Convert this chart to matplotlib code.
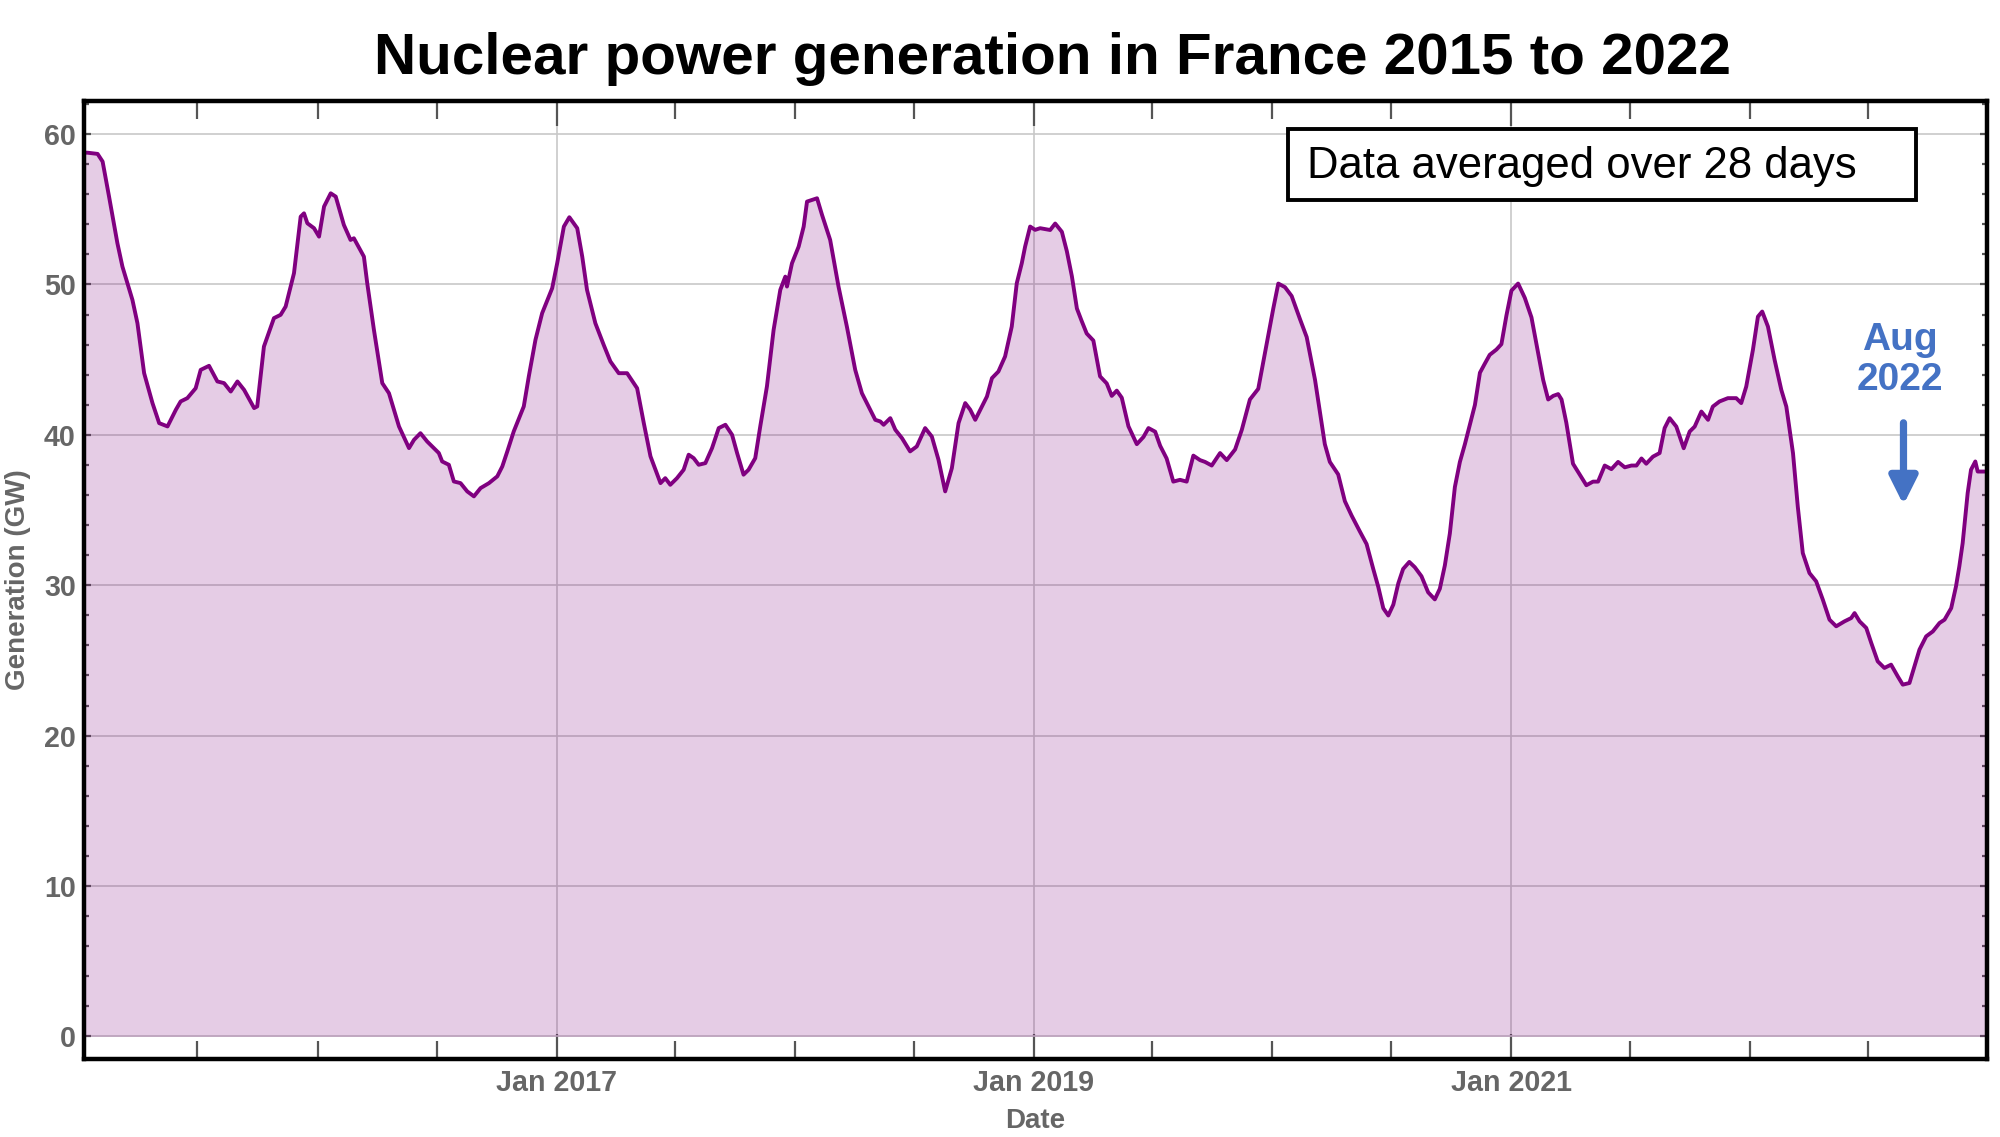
import numpy as np
import pandas as pd
import matplotlib
matplotlib.use("Agg")
import matplotlib.pyplot as plt
import matplotlib.dates as mdates
import matplotlib.ticker as ticker
from matplotlib.patches import Rectangle
from datetime import datetime

plt.rcParams['font.family'] = ['Liberation Sans', 'DejaVu Sans']

# time in decimal years, 28-day averaged generation in GW
years = [
    2015.020, 2015.035, 2015.077, 2015.098, 2015.125, 2015.160, 2015.181, 2015.223, 2015.244, 2015.272,
    2015.307, 2015.335, 2015.370, 2015.405, 2015.425, 2015.453, 2015.488, 2015.509, 2015.544, 2015.579,
    2015.607, 2015.635, 2015.663, 2015.691, 2015.733, 2015.746, 2015.774, 2015.816, 2015.844, 2015.865,
    2015.900, 2015.928, 2015.942, 2015.956, 2015.984, 2016.005, 2016.026, 2016.054, 2016.075, 2016.109,
    2016.137, 2016.151, 2016.193, 2016.207, 2016.235, 2016.270, 2016.298, 2016.340,
    2016.382, 2016.403, 2016.430, 2016.458, 2016.486, 2016.507, 2016.521, 2016.549, 2016.570, 2016.598,
    2016.626, 2016.654, 2016.682, 2016.717, 2016.752, 2016.773, 2016.794, 2016.821, 2016.863, 2016.884,
    2016.912, 2016.940, 2016.982, 2017.003, 2017.031, 2017.054, 2017.087, 2017.108, 2017.128, 2017.163,
    2017.198, 2017.226, 2017.261, 2017.296, 2017.338, 2017.366, 2017.394, 2017.436, 2017.456, 2017.477,
    2017.505, 2017.533, 2017.554, 2017.575, 2017.596, 2017.624, 2017.652, 2017.680, 2017.708,
    2017.736, 2017.757, 2017.784, 2017.805, 2017.833, 2017.854, 2017.882, 2017.910, 2017.938, 2017.959,
    2017.966, 2017.987, 2018.015, 2018.036, 2018.050, 2018.071, 2018.092, 2018.113, 2018.147, 2018.182,
    2018.217, 2018.252, 2018.280, 2018.308, 2018.336, 2018.357, 2018.371, 2018.399, 2018.420, 2018.448,
    2018.482, 2018.510, 2018.545, 2018.573, 2018.601, 2018.629, 2018.657, 2018.685, 2018.713, 2018.734,
    2018.755, 2018.776, 2018.804, 2018.825, 2018.852, 2018.880, 2018.908, 2018.929, 2018.950, 2018.964,
    2018.985, 2019.006,
    2019.027, 2019.069, 2019.090, 2019.118, 2019.139, 2019.160, 2019.181, 2019.201, 2019.222, 2019.250,
    2019.278, 2019.306, 2019.327, 2019.348, 2019.369, 2019.397, 2019.432, 2019.460, 2019.481, 2019.509,
    2019.530, 2019.557, 2019.585, 2019.613, 2019.641, 2019.669, 2019.697, 2019.718, 2019.746, 2019.781,
    2019.809, 2019.844, 2019.872, 2019.906, 2019.941, 2019.976, 2020.004, 2020.025, 2020.053, 2020.081,
    2020.116, 2020.144, 2020.179, 2020.220, 2020.241, 2020.276, 2020.304, 2020.332,
    2020.367, 2020.395, 2020.423, 2020.444, 2020.465, 2020.486, 2020.507, 2020.528, 2020.548, 2020.574,
    2020.597, 2020.625, 2020.653, 2020.681, 2020.702, 2020.723, 2020.744, 2020.765, 2020.786, 2020.807,
    2020.828, 2020.849, 2020.870, 2020.890, 2020.911, 2020.939, 2020.960, 2020.981, 2021.002, 2021.030,
    2021.058, 2021.086, 2021.107, 2021.135, 2021.156, 2021.177, 2021.198, 2021.212, 2021.232, 2021.260,
    2021.288, 2021.316, 2021.344, 2021.365, 2021.393, 2021.421, 2021.449, 2021.477, 2021.505, 2021.526,
    2021.547, 2021.567, 2021.595, 2021.623, 2021.644,
    2021.665, 2021.693, 2021.724, 2021.749, 2021.770, 2021.798, 2021.826, 2021.846, 2021.874, 2021.909,
    2021.944, 2021.965, 2021.986, 2022.014, 2022.035, 2022.053, 2022.077, 2022.105, 2022.133, 2022.154,
    2022.182, 2022.202, 2022.223, 2022.251, 2022.279, 2022.307, 2022.335, 2022.363, 2022.398, 2022.426,
    2022.440, 2022.461, 2022.489, 2022.510, 2022.537, 2022.565, 2022.593, 2022.621, 2022.642, 2022.670,
    2022.691, 2022.712, 2022.740, 2022.768, 2022.796, 2022.817, 2022.845, 2022.865, 2022.879, 2022.893,
    2022.914, 2022.928, 2022.946, 2022.956, 2022.990,
]
generation = [
    58.76, 58.76, 58.68, 58.17, 55.84, 52.74, 51.19, 48.97, 47.42, 44.10,
    42.11, 40.78, 40.56, 41.67, 42.22, 42.44, 43.10, 44.32, 44.59, 43.55,
    43.44, 42.88, 43.55, 42.99, 41.78, 41.89, 45.87, 47.76, 47.98, 48.53,
    50.75, 54.51, 54.73, 54.07, 53.74, 53.18, 55.18, 56.06, 55.84, 53.96,
    52.96, 53.07, 51.85, 50.08, 46.98, 43.44, 42.77, 40.56,
    39.12, 39.67, 40.11, 39.56, 39.12, 38.79, 38.23, 38.01, 36.90, 36.79,
    36.24, 35.91, 36.46, 36.79, 37.24, 37.90, 38.90, 40.23, 41.89, 43.88,
    46.32, 48.09, 49.75, 51.41, 53.85, 54.47, 53.74, 51.85, 49.64, 47.42,
    45.98, 44.88, 44.10, 44.10, 43.10, 40.78, 38.57, 36.79, 37.12, 36.68,
    37.12, 37.68, 38.68, 38.45, 38.01, 38.12, 39.12, 40.45, 40.67,
    40.00, 38.79, 37.35, 37.68, 38.45, 40.56, 43.22, 46.98, 49.64, 50.52,
    49.86, 51.41, 52.52, 53.85, 55.51, 55.62, 55.73, 54.62, 52.96, 49.86,
    47.20, 44.32, 42.77, 41.89, 41.00, 40.89, 40.67, 41.11, 40.34, 39.78,
    38.90, 39.23, 40.45, 39.89, 38.34, 36.24, 37.79, 40.78, 42.11, 41.67,
    41.00, 41.67, 42.55, 43.77, 44.21, 45.21, 47.20, 50.08, 51.41, 52.52,
    53.85, 53.63,
    53.74, 53.62, 54.05, 53.50, 52.20, 50.54, 48.40, 47.57, 46.74, 46.27,
    43.89, 43.42, 42.59, 42.94, 42.47, 40.57, 39.38, 39.86, 40.45, 40.21,
    39.27, 38.43, 36.89, 37.01, 36.89, 38.62, 38.32, 38.20, 37.96, 38.79,
    38.32, 39.03, 40.33, 42.35, 43.06, 46.03, 48.40, 50.06, 49.82, 49.23,
    47.69, 46.50, 43.65, 39.38, 38.20, 37.37, 35.59, 34.64,
    33.57, 32.74, 31.08, 29.89, 28.47, 27.99, 28.71, 30.13, 31.08, 31.55,
    31.20, 30.60, 29.53, 29.06, 29.77, 31.32, 33.45, 36.53, 38.20, 39.38,
    40.69, 41.99, 44.13, 44.72, 45.32, 45.67, 46.03, 47.93, 49.59, 50.06,
    49.11, 47.81, 46.03, 43.65, 42.35, 42.59, 42.71, 42.35, 40.81, 38.08,
    37.37, 36.65, 36.89, 36.89, 37.96, 37.72, 38.20, 37.84, 37.96, 37.96,
    38.43, 38.08, 38.55, 38.79, 40.45,
    41.11, 40.55, 39.11, 40.22, 40.55, 41.55, 41.00, 41.88, 42.22, 42.44,
    42.44, 42.11, 43.21, 45.65, 47.86, 48.20, 47.20, 44.98, 42.99, 41.88,
    38.78, 35.24, 32.14, 30.81, 30.26, 29.04, 27.71, 27.27, 27.60, 27.82,
    28.15, 27.60, 27.16, 26.16, 24.94, 24.50, 24.72, 23.94, 23.39, 23.50,
    24.61, 25.72, 26.60, 26.93, 27.49, 27.71, 28.48, 29.92, 31.25, 32.80,
    36.13, 37.68, 38.23, 37.56, 37.56,
]
tick_years = [2017, 2019, 2021]
note_text = "Data averaged over 28 days"
arrow_label = "Aug\n2022"
arrow_year = 2022.645


def to_dates(y):
    y = np.asarray(y, dtype=float)
    return pd.to_datetime("2015-01-01") + pd.to_timedelta((y - 2015) * 365.25, unit="D")


def main():
    dates = to_dates(years)
    gen = np.array(generation)

    fig = plt.figure(figsize=(10, 5.685), dpi=200)
    ax = fig.add_axes([0.042, 0.0686, 0.9515, 0.8426])

    ax.fill_between(dates, 0, gen, color="#800080", alpha=0.2, linewidth=0)
    ax.plot(dates, gen, color="#800080", linewidth=1.4)

    x0, x1 = to_dates([2015.02, 2022.995])
    ax.set_xlim(x0, x1)
    ax.set_ylim(-1.5, 62.2)

    ax.xaxis.set_major_locator(ticker.FixedLocator(
        mdates.date2num([datetime(y, 1, 1) for y in tick_years])))
    ax.xaxis.set_major_formatter(mdates.DateFormatter("Jan %Y"))
    ax.xaxis.set_minor_locator(mdates.MonthLocator(bymonth=[1, 7]))
    ax.yaxis.set_major_locator(ticker.MultipleLocator(10))
    ax.yaxis.set_minor_locator(ticker.MultipleLocator(2))

    ax.set_axisbelow(True)
    ax.grid(True, which="major", color="#c8c8c8", linewidth=0.6)

    ax.tick_params(which="both", direction="in", top=True, right=True,
                   color="#555555", width=0.8, labelcolor="#666666")
    ax.tick_params(axis="x", which="major", length=9, pad=3.5)
    ax.tick_params(axis="x", which="minor", length=6.5)
    ax.tick_params(axis="y", which="major", length=2.5, pad=3)
    ax.tick_params(axis="y", which="minor", length=1.8)
    for lab in ax.get_xticklabels() + ax.get_yticklabels():
        lab.set_fontsize(10.3)
        lab.set_fontweight("bold")

    for sp in ax.spines.values():
        sp.set_color("black")
        sp.set_linewidth(1.6)

    ax.set_xlabel("Date", fontsize=10, fontweight="bold", color="#666666")
    ax.set_ylabel("Generation (GW)", fontsize=10, fontweight="bold", color="#666666")
    ax.xaxis.set_label_coords(0.5, -0.051)
    ax.yaxis.set_label_coords(-0.028, 0.5)

    fig.text(0.526, 0.935, "Nuclear power generation in France 2015 to 2022",
             ha="center", va="baseline", fontsize=21, fontweight="bold", color="black")

    # note box
    ax.add_patch(Rectangle((0.6327, 0.8967), 0.33, 0.0741, transform=ax.transAxes,
                           facecolor="white", edgecolor="black", linewidth=1.4, zorder=5))
    ax.text(0.6427, 0.9317, note_text, transform=ax.transAxes, ha="left", va="center",
            fontsize=15.7, color="black", zorder=6)

    # Aug 2022 arrow
    ax_date = to_dates([arrow_year])[0]
    ax.annotate("", xy=(ax_date, 35.35), xytext=(ax_date, 40.8),
                arrowprops=dict(arrowstyle="-|>", color="#4472C4", lw=2.6,
                                mutation_scale=21, shrinkA=0, shrinkB=0))
    ax.text(to_dates([2022.63])[0], 45.0, arrow_label, ha="center", va="center",
            fontsize=14, fontweight="bold", color="#4472C4", linespacing=1.15)

    fig.savefig("out.png", dpi=200)


if __name__ == "__main__":
    main()
